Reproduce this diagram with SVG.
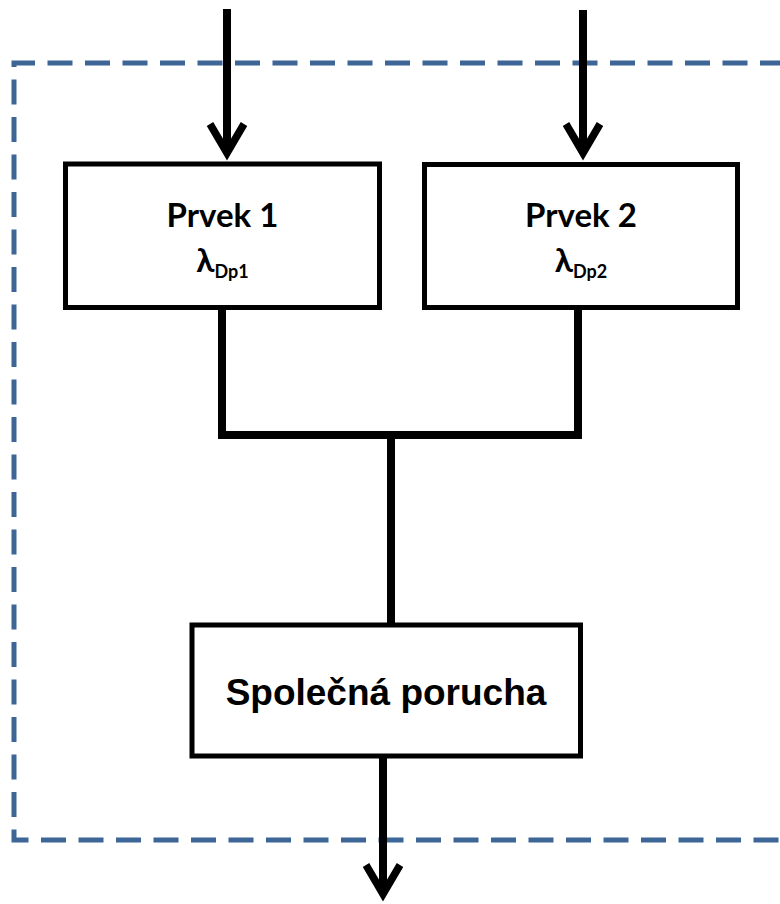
<svg xmlns="http://www.w3.org/2000/svg" width="780" height="904" viewBox="0 0 780 904">
  <defs>
    <marker id="arrowOpen" markerUnits="userSpaceOnUse" markerWidth="60" markerHeight="60" viewBox="-40 -30 60 60" refX="0" refY="0" orient="auto" overflow="visible">
      <path d="M -29 -17 L 0 0 L -29 17" fill="none" stroke="#000" stroke-width="7.5" stroke-linejoin="miter" stroke-miterlimit="10"/>
    </marker>
    <style>
      .box { fill: #fff; stroke: #000; stroke-width: 5; }
      .wire { fill: none; stroke: #000; stroke-width: 8; }
      .arrow { fill: none; stroke: #000; stroke-width: 8; marker-end: url(#arrowOpen); }
      .frame { fill: none; stroke: #3D6596; stroke-width: 5; stroke-dasharray: 25 12.5; }
      .title { font-family: Lato, "Open Sans", sans-serif; font-weight: bold; font-size: 33px; fill: #000; text-anchor: middle; }
      .main { font-family: "Liberation Sans", Arial, sans-serif; font-weight: bold; font-size: 37px; fill: #000; text-anchor: middle; }
    </style>
  </defs>

  <rect width="780" height="904" fill="#fff"/>

  <!-- system boundary -->
  <path class="frame" d="M 785 63 H 14 V 840 H 785"/>

  <g id="connectors">
    <line class="arrow" x1="227" y1="9" x2="227" y2="153"/>
    <line class="arrow" x1="583" y1="10" x2="583" y2="153"/>
    <path class="wire" d="M 222 310 V 435 H 578 V 310"/>
    <line class="wire" x1="391" y1="435" x2="391" y2="625"/>
    <line class="arrow" x1="383" y1="756" x2="383" y2="894"/>
  </g>

  <g id="prvek1">
    <rect class="box" x="65.5" y="164" width="314" height="143.5"/>
    <text class="title" x="222.5" y="227">Prvek 1</text>
    <text class="title" x="222.5" y="272">λ<tspan font-size="18" dy="6">Dp1</tspan></text>
  </g>

  <g id="prvek2">
    <rect class="box" x="424.5" y="164.5" width="313" height="143"/>
    <text class="title" x="581" y="227">Prvek 2</text>
    <text class="title" x="581" y="272">λ<tspan font-size="18" dy="6">Dp2</tspan></text>
  </g>

  <g id="spolecna-porucha">
    <rect class="box" x="192" y="625" width="388.5" height="131"/>
    <text class="main" x="386" y="705">Společná porucha</text>
  </g>
</svg>
